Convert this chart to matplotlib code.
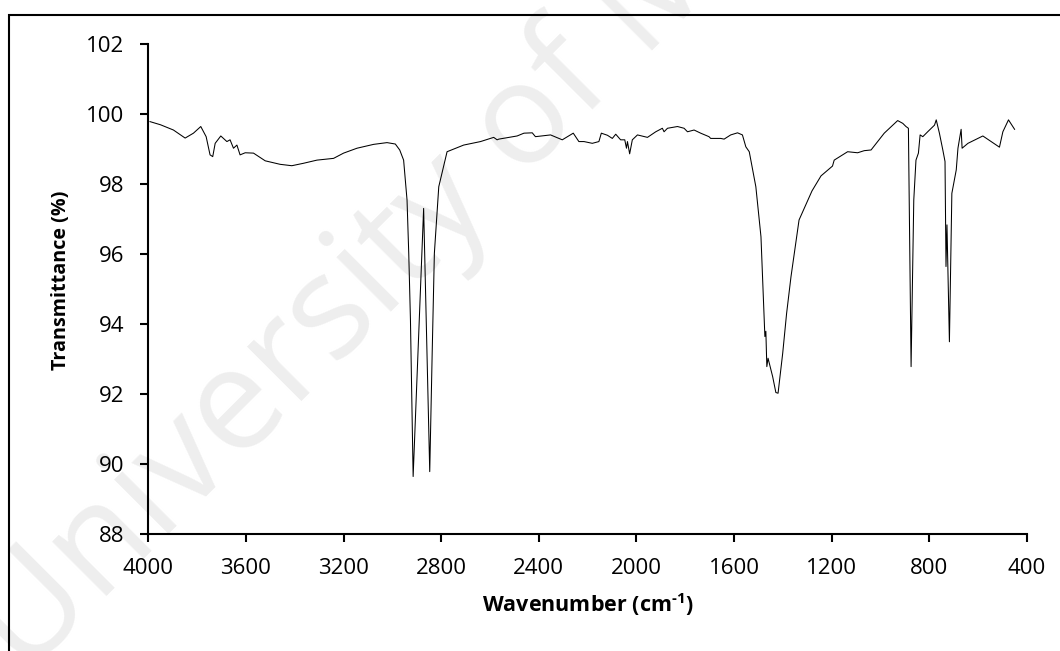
import matplotlib
matplotlib.use("Agg")
import matplotlib.pyplot as plt
from matplotlib.patches import Rectangle

# FTIR spectrum (wavenumber in cm-1, transmittance in %)
wavenumber = [
    3993, 3950, 3897, 3849, 3815, 3785, 3763, 3747, 3736, 3726, 3703, 3678,
    3665, 3651, 3637, 3624, 3603, 3569, 3521, 3460, 3412, 3364, 3309, 3241,
    3200, 3145, 3077, 3022, 2988, 2970, 2954, 2940, 2933, 2926, 2915, 2872,
    2858, 2847, 2837, 2828, 2810, 2776, 2708, 2639, 2585, 2571, 2564, 2489,
    2461, 2427, 2414, 2352, 2304, 2259, 2236, 2215, 2181, 2154, 2144, 2119,
    2099, 2085, 2065, 2048, 2041, 2037, 2028, 2017, 1996, 1955, 1921, 1894,
    1887, 1873, 1832, 1805, 1791, 1764, 1737, 1703, 1696, 1655, 1641, 1614,
    1586, 1566, 1552, 1538, 1511, 1490, 1474, 1470, 1466, 1461, 1442, 1429,
    1420, 1401, 1385, 1367, 1334, 1281, 1244, 1197, 1190, 1135, 1094, 1067,
    1039, 985, 930, 909, 896, 886, 875, 864, 855, 845, 838, 827, 807, 779,
    772, 759, 745, 736, 732, 728, 718, 708, 690, 683, 670, 666, 642, 581,
    547, 513, 499, 476, 451,
]
transmittance = [
    99.79, 99.70, 99.55, 99.32, 99.46, 99.65, 99.36, 98.84, 98.79, 99.17, 99.38, 99.22,
    99.27, 99.03, 99.12, 98.84, 98.90, 98.89, 98.67, 98.57, 98.53, 98.60, 98.69, 98.74,
    98.89, 99.03, 99.14, 99.19, 99.15, 98.98, 98.69, 97.55, 96.03, 94.12, 89.65, 97.31,
    93.17, 89.79, 93.17, 96.03, 97.93, 98.93, 99.12, 99.22, 99.34, 99.27, 99.29, 99.38,
    99.46, 99.47, 99.36, 99.41, 99.27, 99.46, 99.22, 99.22, 99.17, 99.22, 99.46, 99.40,
    99.31, 99.43, 99.27, 99.27, 99.03, 99.22, 98.87, 99.27, 99.41, 99.34, 99.50, 99.60,
    99.50, 99.60, 99.65, 99.60, 99.50, 99.55, 99.46, 99.36, 99.31, 99.31, 99.29, 99.41,
    99.47, 99.41, 99.07, 98.93, 97.93, 96.50, 93.65, 93.80, 92.79, 93.03, 92.50, 92.05,
    92.03, 93.17, 94.31, 95.36, 96.98, 97.81, 98.24, 98.52, 98.69, 98.93, 98.90, 98.96,
    98.98, 99.46, 99.82, 99.74, 99.65, 99.60, 92.79, 97.55, 98.69, 98.89, 99.41, 99.36, 99.50, 99.69,
    99.84, 99.46, 98.98, 98.65, 95.65, 96.84, 93.50, 97.74, 98.41, 99.03, 99.57, 99.03, 99.17, 99.38,
    99.22, 99.06, 99.50, 99.84, 99.57,
]

x_ticks = [4000, 3600, 3200, 2800, 2400, 2000, 1600, 1200, 800, 400]
y_ticks = [88, 90, 92, 94, 96, 98, 100, 102]

plt.rcParams["font.family"] = ["Open Sans", "DejaVu Sans"]
plt.rcParams["mathtext.fontset"] = "custom"
plt.rcParams["mathtext.rm"] = "Open Sans:bold"
plt.rcParams["mathtext.default"] = "rm"

fig = plt.figure(figsize=(10.6, 6.51), dpi=100)

# faint watermark behind the plot
fig.text(0.0236, -0.041, "University of Malaya", rotation=45, rotation_mode="anchor",
         ha="left", va="baseline", fontsize=103, color="#eeeeee", zorder=-1)

# outer frame
fig.add_artist(Rectangle((0.0085, -0.05), 1.1, 1.027, transform=fig.transFigure,
                         fill=False, lw=1.5, edgecolor="black"))

ax = fig.add_axes([0.1399, 0.1793, 0.829, 0.7527])
ax.patch.set_alpha(0)
ax.plot(wavenumber, transmittance, color="black", lw=0.75)

ax.set_xlim(4000, 400)
ax.set_ylim(88, 102)
ax.set_xticks(x_ticks)
ax.set_yticks(y_ticks)
ax.tick_params(direction="out", length=6, width=1.5, labelsize=16, pad=11)

for side in ["top", "right"]:
    ax.spines[side].set_visible(False)
for side in ["left", "bottom"]:
    ax.spines[side].set_linewidth(1.5)

ax.set_xlabel(r"Wavenumber (cm$^{\text{-}1}$)", fontsize=15.5, fontweight="bold", va="center")
ax.set_ylabel("Transmittance (%)", fontsize=14.2, fontweight="bold", va="center")
ax.xaxis.set_label_coords(0.5, -0.144)
ax.yaxis.set_label_coords(-0.0994, 0.519)

fig.savefig("out.png", dpi=100)
